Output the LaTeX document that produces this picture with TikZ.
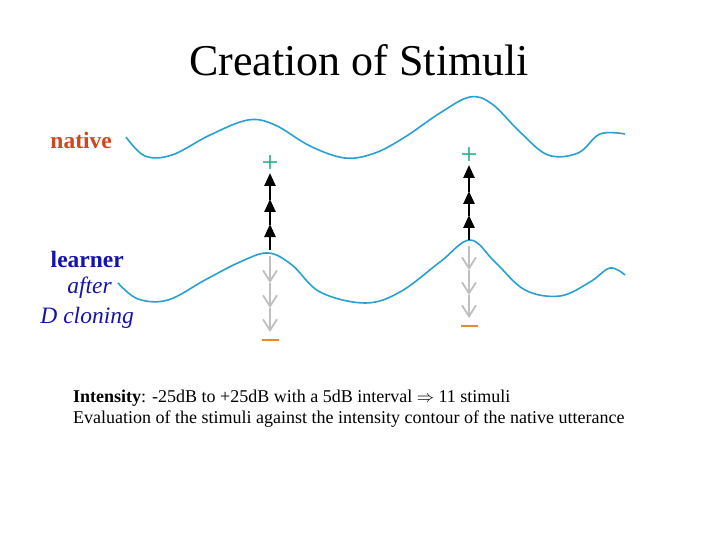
\documentclass[tikz,border=0pt]{standalone}
\usepackage{fontspec}
\setmainfont{Liberation Serif}
\usetikzlibrary{arrows.meta}
\definecolor{curvec}{RGB}{40,160,210}
\definecolor{nativec}{RGB}{210,70,30}
\definecolor{learnc}{RGB}{20,20,170}
\definecolor{plusc}{RGB}{20,170,130}
\definecolor{minusc}{RGB}{230,140,40}
\tikzset{contour/.style={curvec,line width=1.6pt},
 up/.style={-{Triangle[length=13pt,width=11pt]},line width=2.5pt,black,shorten >=-1pt},
 down/.style={-{Straight Barb[length=11pt,width=14pt]},line width=1.8pt,gray!50},
 lbl/.style={inner sep=0pt}}
\begin{document}
\begin{tikzpicture}[x=1pt,y=-1pt]
\useasboundingbox (0,0) rectangle (720,540);
\node[font=\fontsize{44}{48}\selectfont] (title) at (359,60) {Creation of Stimuli};
\node[lbl,text=nativec,font=\fontsize{23.5}{25}\selectfont\bfseries,anchor=east] (nat) at (112,140) {native};
\node[lbl,text=learnc,font=\fontsize{23.5}{25}\selectfont\bfseries,anchor=east] (lea) at (124,259) {learner};
\node[lbl,text=learnc,font=\fontsize{23.5}{25}\selectfont\itshape,anchor=east] (aft) at (112,288) {after};
\node[lbl,text=learnc,font=\fontsize{23.5}{25}\selectfont\itshape,anchor=east] (clo) at (134,318) {D cloning};
\draw[contour] plot[smooth,tension=0.6] coordinates {(126,137) (145,156) (172,155) (210,135) (248,120) (275,125) (310,146) (345,158) (375,153) (405,137) (440,113) (470,97) (492,104) (520,132) (548,155) (578,153) (600,134) (625,134)};
\draw[contour] plot[smooth,tension=0.6] coordinates {(118,283) (138,299) (168,300) (205,280) (240,262) (268,253) (292,265) (320,292) (365,303) (400,292) (440,262) (470,240) (495,262) (525,290) (560,296) (590,282) (610,268) (625,275)};
% left column
\coordinate (l0) at (270,250); \coordinate (l1) at (270,225); \coordinate (l2) at (270,200); \coordinate (l3) at (270,174);
\draw[up] (l0) -- (l1); \draw[up] (l1) -- (l2); \draw[up] (l2) -- (l3);
\node[text=plusc,font=\fontsize{30}{30}\selectfont,inner sep=0pt] (lp) at (270,164) {+};
\coordinate (d0) at (270,256); \coordinate (d1) at (270,283); \coordinate (d2) at (270,308); \coordinate (d3) at (270,332);
\draw[down] (d0) -- (d1); \draw[down] (d1) -- (d2); \draw[down] (d2) -- (d3);
\draw[minusc,line width=2pt] (262,340) -- (279,340);
% right column
\coordinate (r0) at (469,240); \coordinate (r1) at (469,216); \coordinate (r2) at (469,192); \coordinate (r3) at (469,166);
\draw[up] (r0) -- (r1); \draw[up] (r1) -- (r2); \draw[up] (r2) -- (r3);
\node[text=plusc,font=\fontsize{30}{30}\selectfont,inner sep=0pt] (rp) at (469,156) {+};
\coordinate (e0) at (469,246); \coordinate (e1) at (469,270); \coordinate (e2) at (469,295); \coordinate (e3) at (469,318);
\draw[down] (e0) -- (e1); \draw[down] (e1) -- (e2); \draw[down] (e2) -- (e3);
\draw[minusc,line width=2pt] (461,326) -- (478,326);
\node[anchor=west,inner sep=0pt,font=\fontsize{18}{20}\selectfont] (t1) at (73,398) {\textbf{Intensity}: -25dB to +25dB with a 5dB interval $\Rightarrow$ 11 stimuli};
\node[anchor=west,inner sep=0pt,font=\fontsize{18}{20}\selectfont] (t2) at (73,419) {Evaluation of the stimuli against the intensity contour of the native utterance};
\end{tikzpicture}
\end{document}
